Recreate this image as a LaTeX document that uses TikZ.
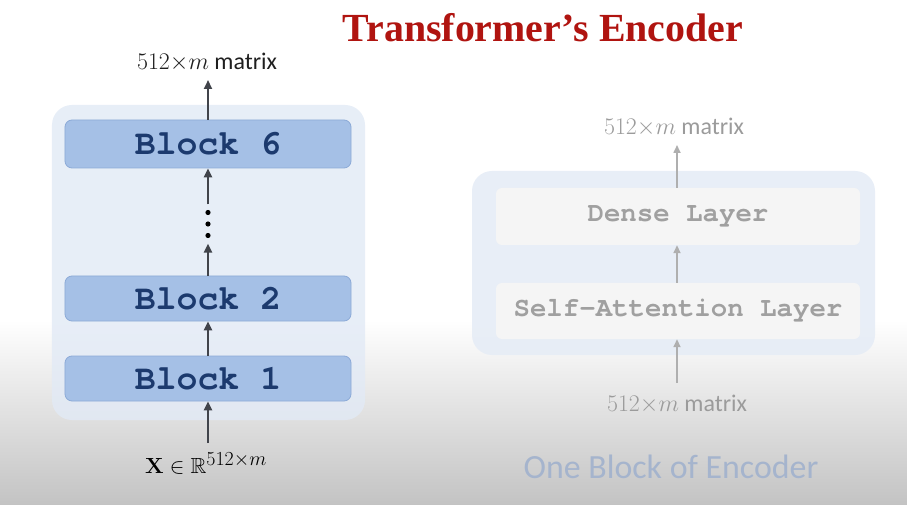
\RequirePackage{fix-cm}
\documentclass[tikz,border=0pt]{standalone}
\usepackage{amssymb}
\usepackage[no-math]{fontspec}
\setmainfont{Carlito}
\newfontfamily\monof{TeX Gyre Cursor}
\newfontfamily\titlef{Liberation Serif}
\usetikzlibrary{arrows.meta}
\definecolor{titlered}{RGB}{176,20,16}
\definecolor{blockfill}{RGB}{165,192,230}
\definecolor{blockdraw}{RGB}{140,170,215}
\definecolor{blocktext}{RGB}{28,58,110}
\definecolor{contfill}{RGB}{226,234,246}
\definecolor{arrowdark}{RGB}{65,68,75}
\definecolor{fadearrow}{RGB}{175,175,175}
\definecolor{fadetext}{RGB}{160,160,160}
\definecolor{fadelabel}{RGB}{155,155,155}
\definecolor{fadebox}{RGB}{245,245,245}
\definecolor{fadecont}{RGB}{229,236,246}
\definecolor{captionblue}{RGB}{165,180,205}
\definecolor{bggrey}{RGB}{195,195,195}
\tikzset{
  container/.style={fill=contfill, fill opacity=0.8, rounded corners=20bp, inner sep=0},
  fadecontainer/.style={fill=fadecont, fill opacity=0.85, rounded corners=20bp, inner sep=0},
  blockbox/.style={draw=blockdraw, line width=0.8bp, fill=blockfill, rounded corners=7bp,
    minimum width=286bp, inner sep=0, text=blocktext,
    font=\monof\bfseries\fontsize{35}{35}\selectfont},
  layerbox/.style={fill=fadebox, rounded corners=6bp, minimum width=364bp, inner sep=0,
    text=fadetext, font=\monof\bfseries\fontsize{27.5}{27.5}\selectfont},
  darrow/.style={-{Triangle[length=9bp,width=8bp]}, line width=2.2bp, draw=arrowdark},
  farrow/.style={-{Triangle[length=8bp,width=7bp]}, line width=1.6bp, draw=fadearrow},
  dimlabel/.style={anchor=base, inner sep=0, font=\fontsize{24}{28}\selectfont},
}
\begin{document}
\begin{tikzpicture}[x=1bp,y=-1bp]
\useasboundingbox (0,0) rectangle (907,505);
% background
\fill[white] (0,0) rectangle (907,321);
\shade[top color=white, bottom color=bggrey] (0,320) rectangle (907,505);

% title
\node (title) [anchor=base, inner sep=0, text=titlered,
  font=\titlef\bfseries\fontsize{40}{40}\selectfont] at (543,42) {Transformer’s Encoder};

% ---------- left: encoder stack ----------
\node (encbox) [container, minimum width=313bp, minimum height=315bp] at (208.5,262.5) {};
\node (b6) [blockbox, minimum height=48bp] at (208,144) {Block 6};
\node (b2) [blockbox, minimum height=45bp] at (208,298.5) {Block 2};
\node (b1) [blockbox, minimum height=45bp] at (208,378.5) {Block 1};
\node (dots) [minimum width=8bp, minimum height=39bp, inner sep=0] at (208,224) {};
\fill[black] (dots.center) circle (2.6bp);
\fill[black] ([yshift=11.5bp]dots.center) circle (2.6bp);
\fill[black] ([yshift=-11.5bp]dots.center) circle (2.6bp);

\coordinate (outtip) at (208,80);
\coordinate (intail) at (208,443);
\node (outlab) [dimlabel, text=black!88] at (207,70) {$512{\times}m$ matrix};
\node (inlab) [anchor=base, inner sep=0, font=\fontsize{22}{27}\selectfont] at (206,473)
  {$\mathbf{X}\in\mathbb{R}^{\mbox{\fontsize{20}{22}\selectfont$512{\times}m$}}$};

\draw[darrow] (b6.north) -- (outtip);
\draw[darrow] (dots.north) -- (b6.south);
\draw[darrow] (b2.north) -- (dots.south);
\draw[darrow] (b1.north) -- (b2.south);
\draw[darrow] (intail) -- (b1.south);

% ---------- right: one block ----------
\node (blkbox) [fadecontainer, minimum width=403bp, minimum height=184bp] at (673.5,263) {};
\node (dense) [layerbox, minimum height=57bp] at (678,216.5) {Dense Layer};
\node (selfatt) [layerbox, minimum height=56bp] at (678,311) {Self-Attention Layer};
\coordinate (rtip) at (677,145);
\coordinate (rtail) at (677,383);
\node (rout) [dimlabel, text=fadelabel] at (674,135) {$512{\times}m$ matrix};
\node (rin) [dimlabel, text=fadelabel] at (677,411) {$512{\times}m$ matrix};
\draw[farrow] (dense.north -| rtip) -- (rtip);
\draw[farrow] (selfatt.north -| rtip) -- (dense.south -| rtip);
\draw[farrow] (rtail) -- (selfatt.south -| rtail);

\node (caption) [anchor=base, inner sep=0, text=captionblue,
  font=\fontsize{34}{38}\selectfont] at (671,478) {One Block of Encoder};
\end{tikzpicture}
\end{document}
